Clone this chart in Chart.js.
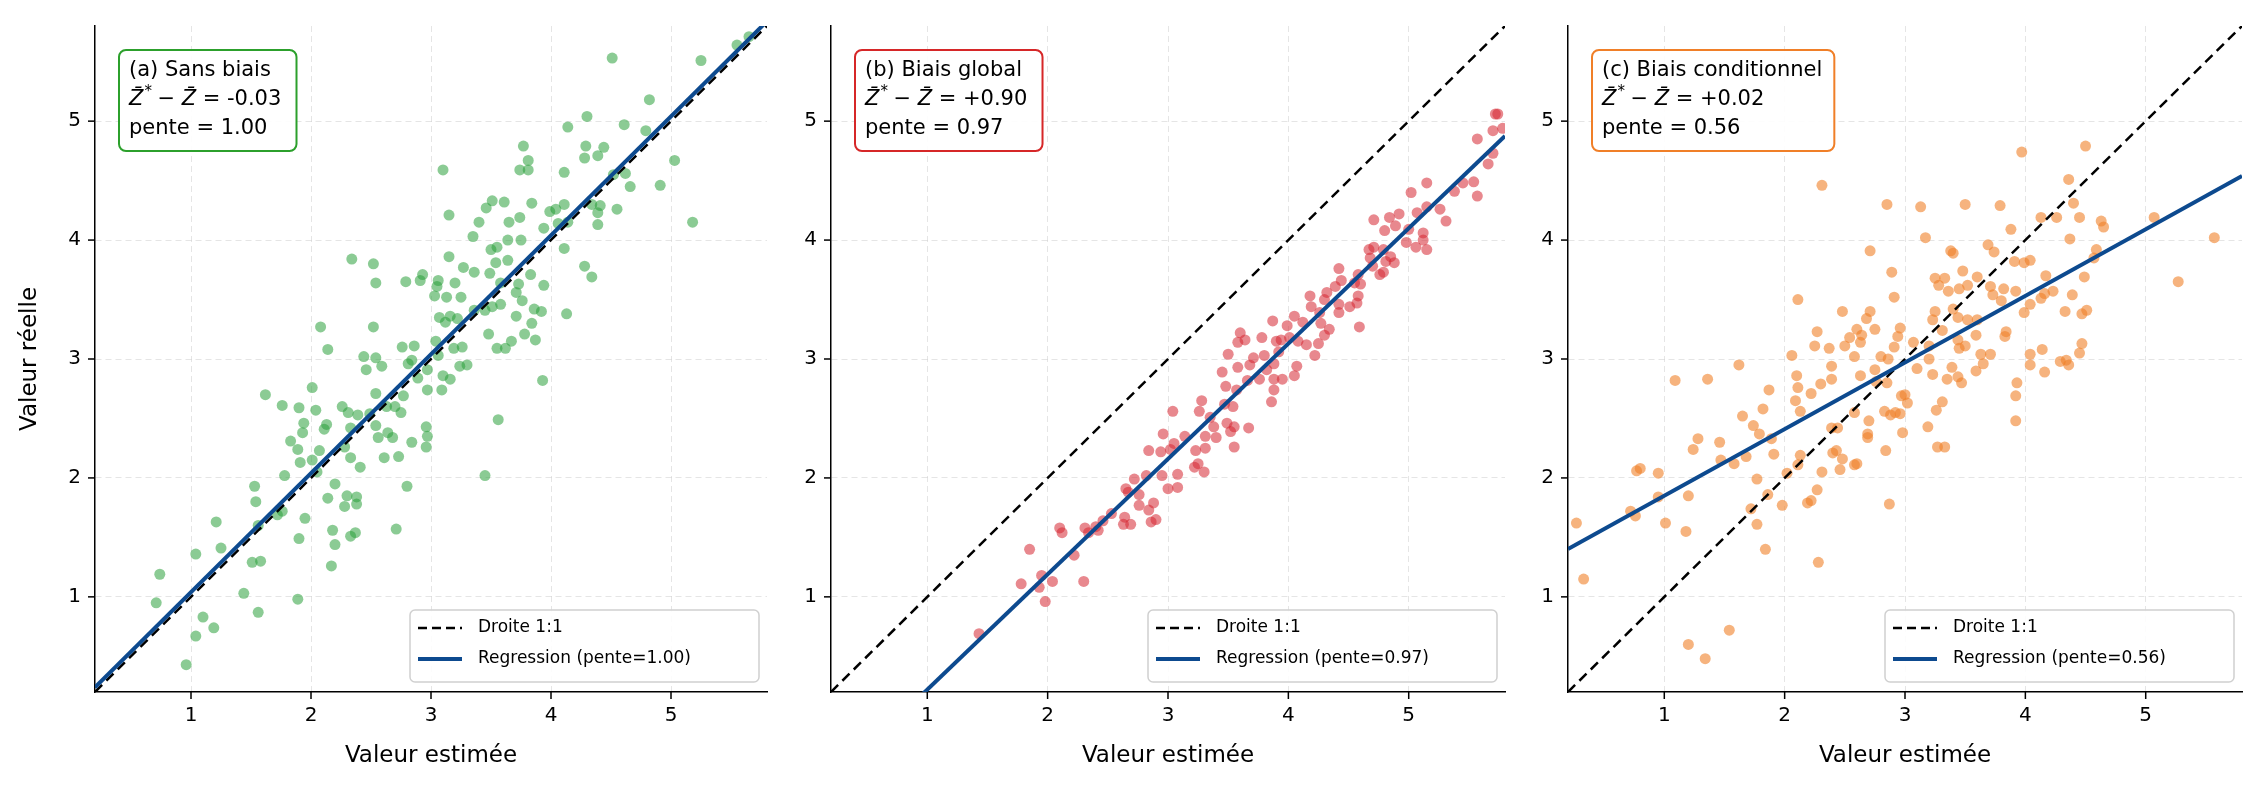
<!DOCTYPE html>
<html lang="fr">
<head>
<meta charset="UTF-8">
<title>Biais</title>
<script src="https://cdn.jsdelivr.net/npm/chart.js"></script>
<style>
  body { margin: 0; background: #fff; width: 2260px; height: 794px; position: relative; overflow: hidden; }
  .panel { position: absolute; top: 0; height: 794px; }
</style>
</head>
<body>
<div class="panel" style="left:0;width:775px"><canvas id="chartA"></canvas></div>
<div class="panel" style="left:741px;width:772px"><canvas id="chartB"></canvas></div>
<div class="panel" style="left:1478px;width:772px"><canvas id="chartC"></canvas></div>
<script>
const pointsA = [
  [4.51,5.53],[5.25,5.51],[5.55,5.64],[5.65,5.71],[4.82,5.18],[4.30,5.04],[4.14,4.95],[4.61,4.97],[4.79,4.92],
  [3.77,4.79],[4.29,4.79],[4.44,4.78],[4.28,4.69],[4.39,4.71],[3.81,4.67],[3.10,4.59],[3.74,4.59],[3.81,4.59],
  [4.11,4.57],[5.03,4.67],[4.52,4.55],[4.62,4.56],[4.66,4.45],[4.91,4.46],[3.51,4.33],[3.61,4.32],[3.46,4.27],
  [3.84,4.31],[3.15,4.21],[3.74,4.19],[3.65,4.15],[3.40,4.15],[3.99,4.24],[4.04,4.26],[4.11,4.30],[4.34,4.30],
  [4.41,4.29],[4.39,4.23],[4.55,4.26],[4.39,4.13],[5.18,4.15],[3.94,4.10],[4.06,4.14],[4.14,4.15],[3.35,4.03],
  [3.64,4.00],[3.75,4.00],[3.55,3.94],[3.50,3.92],[4.11,3.93],[3.15,3.86],[3.64,3.83],[3.54,3.81],[3.27,3.77],
  [3.36,3.73],[3.49,3.72],[4.28,3.78],[4.34,3.69],[2.34,3.84],[2.52,3.80],[2.54,3.64],[2.79,3.65],[2.91,3.66],
  [2.93,3.71],[3.06,3.66],[3.05,3.61],[3.20,3.64],[3.03,3.53],[3.13,3.52],[3.25,3.52],[3.58,3.64],[3.73,3.63],
  [3.71,3.56],[3.83,3.71],[3.94,3.62],[3.76,3.49],[3.86,3.42],[3.92,3.40],[4.13,3.38],[3.58,3.46],[3.51,3.44],
  [3.45,3.41],[3.36,3.41],[3.07,3.35],[3.16,3.36],[3.22,3.34],[3.12,3.31],[3.71,3.36],[3.84,3.30],[3.78,3.21],
  [3.87,3.16],[3.67,3.15],[3.62,3.09],[3.55,3.09],[3.48,3.21],[2.08,3.27],[2.52,3.27],[2.14,3.08],[2.76,3.10],
  [2.86,3.11],[3.04,3.15],[3.19,3.09],[3.26,3.10],[3.06,3.03],[2.44,3.02],[2.54,3.01],[2.59,2.94],[2.46,2.91],
  [2.81,2.96],[2.84,2.99],[2.97,2.91],[2.89,2.84],[3.10,2.86],[3.16,2.83],[3.24,2.94],[3.30,2.95],[3.93,2.82],
  [2.01,2.76],[2.54,2.71],[2.97,2.74],[3.09,2.74],[1.62,2.70],[1.76,2.61],[1.90,2.59],[2.04,2.57],[2.26,2.60],
  [2.31,2.55],[2.77,2.69],[2.70,2.60],[2.75,2.55],[2.63,2.60],[2.49,2.54],[2.39,2.53],[3.56,2.49],[1.94,2.46],
  [2.13,2.45],[1.93,2.38],[2.11,2.41],[2.33,2.42],[2.54,2.44],[2.64,2.38],[2.56,2.34],[2.68,2.34],[2.96,2.43],
  [2.97,2.35],[1.83,2.31],[1.89,2.24],[2.07,2.23],[2.01,2.15],[1.91,2.13],[2.28,2.26],[2.33,2.17],[2.41,2.09],
  [2.61,2.17],[2.73,2.18],[2.84,2.30],[2.96,2.26],[1.78,2.02],[2.05,2.05],[3.45,2.02],[1.53,1.93],[1.54,1.80],
  [2.20,1.95],[2.14,1.83],[2.30,1.85],[2.38,1.84],[2.28,1.76],[2.38,1.78],[2.80,1.93],[1.72,1.69],[1.76,1.72],
  [1.95,1.66],[1.21,1.63],[1.56,1.60],[1.90,1.49],[2.18,1.56],[2.20,1.44],[2.33,1.51],[2.37,1.54],[2.71,1.57],
  [1.04,1.36],[1.25,1.41],[1.51,1.29],[1.58,1.30],[2.17,1.26],[0.74,1.19],[0.71,0.95],[1.44,1.03],[1.89,0.98],
  [1.10,0.83],[1.56,0.87],[1.19,0.74],[1.04,0.67],[0.96,0.43]
];
const pointsB = [
  [5.74,5.06],[5.72,5.06],[5.70,4.92],[5.78,4.94],[5.57,4.85],[5.66,4.64],[5.70,4.73],[5.15,4.48],[5.02,4.40],
  [5.45,4.48],[5.54,4.49],[5.38,4.41],[5.57,4.37],[5.15,4.28],[5.07,4.23],[4.92,4.22],[4.84,4.19],[5.26,4.26],
  [5.31,4.16],[4.71,4.17],[4.80,4.08],[4.89,4.12],[5.00,4.09],[5.12,4.06],[5.12,4.00],[5.15,3.92],[5.06,3.94],
  [4.98,3.98],[4.67,3.92],[4.71,3.94],[4.79,3.92],[4.68,3.85],[4.85,3.86],[4.88,3.81],[4.81,3.82],[4.70,3.78],
  [4.76,3.71],[4.79,3.73],[4.42,3.76],[4.44,3.66],[4.58,3.71],[4.39,3.61],[4.55,3.64],[4.60,3.63],[4.58,3.53],
  [4.18,3.53],[4.19,3.44],[4.30,3.50],[4.32,3.56],[4.42,3.46],[4.51,3.44],[4.57,3.47],[4.42,3.39],[4.26,3.39],
  [4.05,3.36],[3.87,3.32],[3.99,3.28],[4.12,3.31],[4.27,3.30],[4.34,3.25],[4.30,3.20],[4.59,3.27],[3.60,3.22],
  [3.78,3.18],[3.58,3.14],[3.64,3.16],[3.90,3.15],[3.94,3.16],[4.01,3.18],[4.08,3.15],[4.15,3.12],[4.22,3.03],
  [4.25,3.13],[3.50,3.04],[3.68,2.95],[3.71,3.01],[3.80,3.03],[3.92,3.06],[3.88,2.96],[4.07,2.94],[3.58,2.93],
  [3.45,2.89],[3.82,2.91],[3.66,2.82],[3.76,2.83],[3.88,2.83],[3.95,2.83],[4.05,2.86],[3.88,2.74],[3.48,2.77],
  [3.57,2.74],[3.86,2.64],[3.28,2.65],[3.47,2.62],[3.54,2.60],[3.04,2.56],[3.26,2.56],[3.35,2.51],[3.49,2.46],
  [3.38,2.43],[3.55,2.43],[3.52,2.39],[3.67,2.42],[2.96,2.37],[3.14,2.35],[3.31,2.35],[3.40,2.34],[3.05,2.29],
  [2.84,2.23],[2.94,2.22],[3.02,2.24],[3.23,2.23],[3.31,2.25],[3.55,2.26],[3.25,2.12],[3.22,2.09],[3.30,2.05],
  [2.72,1.99],[2.82,2.02],[2.95,2.02],[3.08,2.03],[2.65,1.91],[2.67,1.88],[2.76,1.86],[3.00,1.91],[3.08,1.92],
  [2.76,1.77],[2.88,1.79],[2.84,1.73],[2.53,1.70],[2.64,1.67],[2.46,1.64],[2.63,1.61],[2.69,1.61],[2.86,1.63],
  [2.90,1.65],[2.10,1.58],[2.12,1.54],[2.31,1.58],[2.40,1.59],[2.34,1.54],[2.42,1.56],[2.22,1.35],[1.85,1.40],
  [1.78,1.11],[1.95,1.18],[1.93,1.08],[2.04,1.13],[2.30,1.13],[1.98,0.96],[1.43,0.69]
];
const pointsC = [
  [4.50,4.79],[3.97,4.74],[2.31,4.46],[4.36,4.51],[2.85,4.30],[3.13,4.28],[3.50,4.30],[3.79,4.29],[4.40,4.31],
  [4.13,4.19],[4.26,4.19],[4.45,4.19],[4.63,4.16],[4.65,4.11],[5.07,4.19],[3.88,4.09],[3.17,4.02],[4.37,4.01],
  [5.57,4.02],[2.71,3.91],[3.38,3.91],[3.40,3.89],[3.69,3.96],[3.74,3.90],[4.59,3.92],[4.57,3.85],[3.91,3.82],
  [3.99,3.81],[4.04,3.83],[2.89,3.73],[3.48,3.74],[3.25,3.68],[3.33,3.68],[3.60,3.69],[3.28,3.62],[3.36,3.57],
  [3.45,3.59],[3.52,3.62],[3.71,3.61],[3.73,3.54],[3.82,3.59],[3.92,3.57],[4.17,3.70],[4.13,3.51],[4.16,3.55],
  [4.23,3.57],[4.39,3.54],[4.49,3.69],[5.27,3.65],[2.11,3.50],[2.91,3.52],[3.80,3.49],[4.04,3.46],[2.48,3.40],
  [2.71,3.40],[3.25,3.40],[3.40,3.42],[3.99,3.39],[4.33,3.40],[4.47,3.38],[4.51,3.41],[2.68,3.34],[3.23,3.33],
  [3.44,3.35],[3.52,3.33],[3.60,3.33],[2.27,3.23],[2.60,3.25],[2.75,3.25],[2.96,3.26],[2.64,3.20],[2.54,3.18],
  [2.94,3.19],[3.31,3.24],[3.59,3.20],[3.84,3.23],[3.83,3.19],[2.25,3.11],[2.37,3.09],[2.50,3.11],[2.63,3.14],
  [2.91,3.10],[3.07,3.14],[3.20,3.11],[3.44,3.16],[3.45,3.09],[3.50,3.11],[2.06,3.03],[2.58,3.02],[2.80,3.02],
  [2.86,3.00],[3.20,3.00],[3.63,3.04],[3.71,3.04],[4.04,3.04],[4.14,3.08],[4.45,3.05],[4.47,3.13],[1.62,2.95],
  [2.39,2.94],[3.10,2.92],[2.75,2.91],[3.39,2.93],[3.65,2.96],[4.04,2.95],[4.29,2.98],[4.34,2.99],[4.36,2.95],
  [1.09,2.82],[1.36,2.83],[2.10,2.86],[2.39,2.83],[2.63,2.86],[3.23,2.87],[3.35,2.83],[3.44,2.85],[3.59,2.90],
  [4.16,2.89],[1.87,2.74],[2.11,2.76],[2.22,2.71],[2.30,2.79],[2.76,2.81],[2.85,2.80],[3.47,2.80],[3.93,2.80],
  [2.09,2.65],[2.13,2.56],[1.82,2.58],[2.97,2.69],[3.00,2.70],[3.02,2.63],[3.31,2.64],[3.92,2.69],[1.65,2.52],
  [2.58,2.55],[2.83,2.56],[2.88,2.53],[2.92,2.55],[2.96,2.54],[3.26,2.57],[1.74,2.44],[2.70,2.48],[2.39,2.42],
  [2.44,2.42],[3.19,2.43],[3.92,2.48],[1.79,2.37],[2.69,2.37],[2.69,2.34],[2.98,2.38],[1.28,2.33],[1.46,2.30],
  [1.89,2.33],[1.24,2.24],[3.27,2.26],[3.33,2.26],[1.91,2.20],[2.13,2.19],[2.40,2.21],[2.43,2.23],[2.84,2.23],
  [1.47,2.15],[1.58,2.12],[1.68,2.18],[2.48,2.16],[2.58,2.11],[2.60,2.12],[2.11,2.11],[0.77,2.06],[0.80,2.08],
  [0.95,2.04],[2.31,2.05],[2.46,2.07],[2.02,2.04],[1.77,1.99],[0.95,1.84],[1.20,1.85],[1.86,1.86],[2.27,1.90],
  [0.72,1.72],[0.76,1.68],[1.72,1.74],[1.98,1.77],[2.19,1.79],[2.22,1.81],[2.87,1.78],[0.27,1.62],[1.01,1.62],
  [1.18,1.55],[1.77,1.61],[1.84,1.40],[2.28,1.29],[0.33,1.15],[1.54,0.72],[1.20,0.60],[1.34,0.48]
];

const tickValues = [1, 2, 3, 4, 5];
const axisMin = 0.2, axisMax = 5.8;
const titles = ['(a) Sans biais', '(b) Biais global', '(c) Biais conditionnel'];
const biasTexts = ['-0.03', '+0.90', '+0.02'];
const slopes = [1.00, 0.97, 0.56];
const intercepts = [0.04, -0.75, 1.29];
const pointColors = ['rgba(44,160,60,0.55)', 'rgba(214,39,50,0.55)', 'rgba(240,128,40,0.6)'];
const frameColors = ['#2ca02c', '#d62728', '#f07f28'];

const FONT = '"DejaVu Sans", sans-serif';

const decorPlugin = {
  id: 'decor',
  afterDraw(chart) {
    const { ctx, chartArea: a, scales } = chart;
    const i = chart.options.panelIndex;
    ctx.save();
    // tick marks
    ctx.strokeStyle = '#000';
    ctx.lineWidth = 1.5;
    tickValues.forEach(v => {
      const px = scales.x.getPixelForValue(v), py = scales.y.getPixelForValue(v);
      ctx.beginPath(); ctx.moveTo(px, a.bottom); ctx.lineTo(px, a.bottom + 7); ctx.stroke();
      ctx.beginPath(); ctx.moveTo(a.left, py); ctx.lineTo(a.left - 7, py); ctx.stroke();
    });
    // annotation box
    ctx.font = '21px ' + FONT;
    const lines = [titles[i], 'Z̄* − Z̄ = ' + biasTexts[i], 'pente = ' + slopes[i].toFixed(2)];
    const w = Math.max(...lines.map(l => ctx.measureText(l).width)) + 22;
    const bx = a.left + 24, by = a.top + 24, bh = 101;
    ctx.beginPath();
    ctx.roundRect(bx, by, w, bh, 7);
    ctx.fillStyle = 'rgba(255,255,255,0.9)';
    ctx.fill();
    ctx.strokeStyle = frameColors[i];
    ctx.lineWidth = 2;
    ctx.stroke();
    ctx.fillStyle = '#000';
    ctx.textBaseline = 'middle';
    ctx.fillText(titles[i], bx + 10, by + 21);
    let x = bx + 10, y = by + 50;
    ctx.font = 'italic 21px ' + FONT;
    ctx.fillText('Z̄', x, y); x += ctx.measureText('Z').width;
    ctx.font = '15px ' + FONT;
    ctx.fillText('*', x + 1, y - 8); x += 14;
    ctx.font = '21px ' + FONT;
    ctx.fillText('−', x, y); x += ctx.measureText('− ').width;
    ctx.font = 'italic 21px ' + FONT;
    ctx.fillText('Z̄', x, y); x += ctx.measureText('Z').width;
    ctx.font = '21px ' + FONT;
    ctx.fillText(' = ' + biasTexts[i], x, y);
    ctx.fillText('pente = ' + slopes[i].toFixed(2), bx + 10, by + 79);
    // legend
    const lw = 349, lh = 72;
    const lx = a.right - lw - 8, ly = a.bottom - lh - 10;
    ctx.beginPath();
    ctx.roundRect(lx, ly, lw, lh, 5);
    ctx.fillStyle = 'rgba(255,255,255,0.85)';
    ctx.fill();
    ctx.strokeStyle = '#d0d0d0';
    ctx.lineWidth = 1.5;
    ctx.stroke();
    ctx.lineWidth = 2.5;
    ctx.strokeStyle = '#000';
    ctx.setLineDash([9, 5]);
    ctx.beginPath(); ctx.moveTo(lx + 8, ly + 18); ctx.lineTo(lx + 52, ly + 18); ctx.stroke();
    ctx.setLineDash([]);
    ctx.strokeStyle = '#0d4a8f';
    ctx.lineWidth = 4;
    ctx.beginPath(); ctx.moveTo(lx + 8, ly + 49); ctx.lineTo(lx + 52, ly + 49); ctx.stroke();
    ctx.fillStyle = '#000';
    ctx.font = '17px ' + FONT;
    ctx.fillText('Droite 1:1', lx + 68, ly + 18);
    ctx.fillText('Regression (pente=' + slopes[i].toFixed(2) + ')', lx + 68, ly + 49);
    ctx.restore();
  }
};

function makeChart(id, i, points, yAxisWidth, leftPad, showYTitle) {
  const lineData = [axisMin, axisMax].map(v => ({ x: v, y: slopes[i] * v + intercepts[i] }));
  new Chart(document.getElementById(id), {
    type: 'scatter',
    data: {
      datasets: [
        { type: 'line', data: lineData, borderColor: '#0d4a8f', borderWidth: 4, pointRadius: 0, order: 0 },
        { type: 'line', data: [{ x: axisMin, y: axisMin }, { x: axisMax, y: axisMax }], borderColor: '#000',
          borderWidth: 2.5, borderDash: [10, 6], pointRadius: 0, order: 1 },
        { data: points.map(p => ({ x: p[0], y: p[1] })), backgroundColor: pointColors[i],
          borderWidth: 0, pointRadius: 5.5, order: 2 }
      ]
    },
    plugins: [decorPlugin],
    options: {
      panelIndex: i,
      responsive: true,
      maintainAspectRatio: false,
      animation: false,
      layout: { padding: { top: 20, right: 8, bottom: 20, left: leftPad } },
      plugins: { legend: { display: false }, tooltip: { enabled: false } },
      scales: {
        x: {
          type: 'linear', min: axisMin, max: axisMax,
          afterBuildTicks: s => { s.ticks = tickValues.map(v => ({ value: v })); },
          afterFit: s => { s.height = 82; },
          grid: { color: 'rgba(0,0,0,0.1)', drawTicks: false },
          border: { color: '#000', width: 1.5, dash: [6, 4] },
          ticks: { color: '#000', font: { family: FONT, size: 20 }, padding: 12 },
          title: { display: true, text: 'Valeur estimée', color: '#000', font: { family: FONT, size: 23 }, padding: { top: 4 } }
        },
        y: {
          type: 'linear', min: axisMin, max: axisMax,
          afterBuildTicks: s => { s.ticks = tickValues.map(v => ({ value: v })); },
          afterFit: s => { s.width = yAxisWidth; },
          grid: { color: 'rgba(0,0,0,0.1)', drawTicks: false },
          border: { color: '#000', width: 1.5, dash: [6, 4] },
          ticks: { color: '#000', font: { family: FONT, size: 20 }, padding: 14 },
          title: { display: showYTitle, text: 'Valeur réelle', color: '#000', font: { family: FONT, size: 23 } }
        }
      }
    }
  });
}

makeChart('chartA', 0, pointsA, 83, 12, true);
makeChart('chartB', 1, pointsB, 90, 0, false);
makeChart('chartC', 2, pointsC, 90, 0, false);
</script>
</body>
</html>
